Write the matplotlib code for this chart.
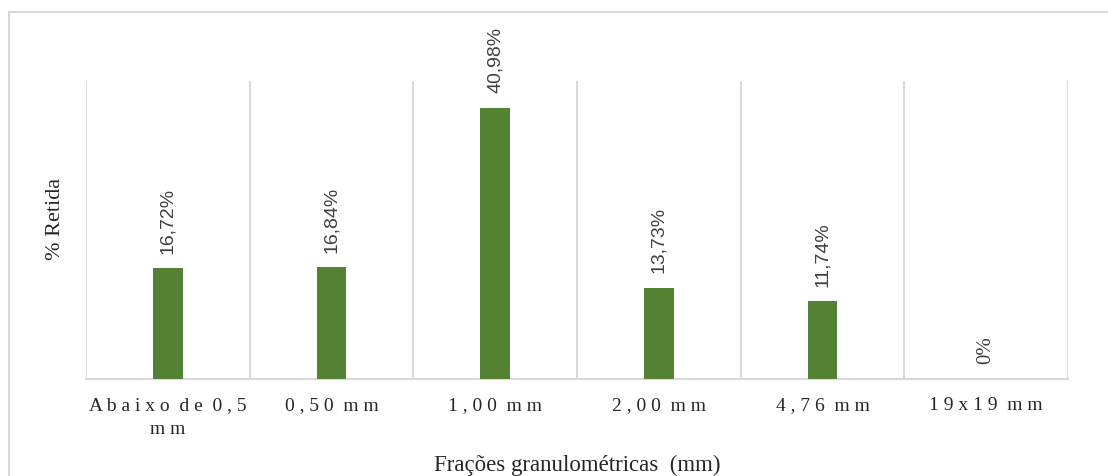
import matplotlib.pyplot as plt
from matplotlib.patches import Rectangle

# data
categories = ['Abaixo de 0,5\nmm', '0,50 mm', '1,00 mm', '2,00 mm', '4,76 mm', '19x19 mm']
retida = [16.72, 16.84, 40.98, 13.73, 11.74, 0.0]
value_labels = ['16,72%', '16,84%', '40,98%', '13,73%', '11,74%', '0%']

bar_color = '#548235'
grid_color = '#d9d9d9'
text_color = '#404040'


def spaced(label):
    # the source spreads letters out, mimic it with spaces
    lines = []
    for line in label.split('\n'):
        words = [' '.join(w) for w in line.split(' ')]
        lines.append('  '.join(words))
    return '\n'.join(lines)


fig = plt.figure(figsize=(11.08, 4.76), dpi=100)
ax = fig.add_axes([86 / 1108, 97 / 476, 982 / 1108, 298 / 476])

x = list(range(len(categories)))
ax.bar(x, retida, width=0.18, color=bar_color, zorder=3)

# value labels, rotated like the original
for xi, v, lab in zip(x, retida, value_labels):
    if v == 0:
        fam, fs = 'Liberation Serif', 15
    else:
        fam, fs = 'Liberation Sans', 14
    ax.annotate(lab, (xi, v), xytext=(0, 10.5), textcoords='offset points',
                rotation=90, ha='center', va='bottom', fontsize=fs,
                family=fam, color=text_color)

# category separators
for b in range(len(categories) + 1):
    ax.axvline(b - 0.5, color=grid_color, lw=1.5, zorder=1)

ax.set_xlim(-0.5, len(categories) - 0.5)
ax.set_ylim(0, 45)
ax.set_yticks([])
ax.set_xticks(x)
ax.set_xticklabels([spaced(c) for c in categories], family='Liberation Serif',
                   fontsize=14, color='#262626', linespacing=1.55)
ax.tick_params(axis='x', length=0, pad=13)
for s in ['left', 'right', 'top']:
    ax.spines[s].set_visible(False)
ax.spines['bottom'].set_color(grid_color)
ax.spines['bottom'].set_linewidth(1.5)

fig.text(55 / 1108, 1 - 219 / 476, '% Retida', rotation=90, ha='center', va='center',
         family='Liberation Serif', fontsize=16, color='#262626')
fig.text(577 / 1108, 1 - 465 / 476, 'Frações granulométricas  (mm)', ha='center', va='center',
         family='Liberation Serif', fontsize=16.5, color='#262626')

# outer chart frame
fig.patches.append(Rectangle((9 / 1108, -0.1), 1.2, 1 - 12 / 476 + 0.1, transform=fig.transFigure,
                             fill=False, edgecolor=grid_color, lw=1.5))

fig.savefig('out.png', dpi=100)
